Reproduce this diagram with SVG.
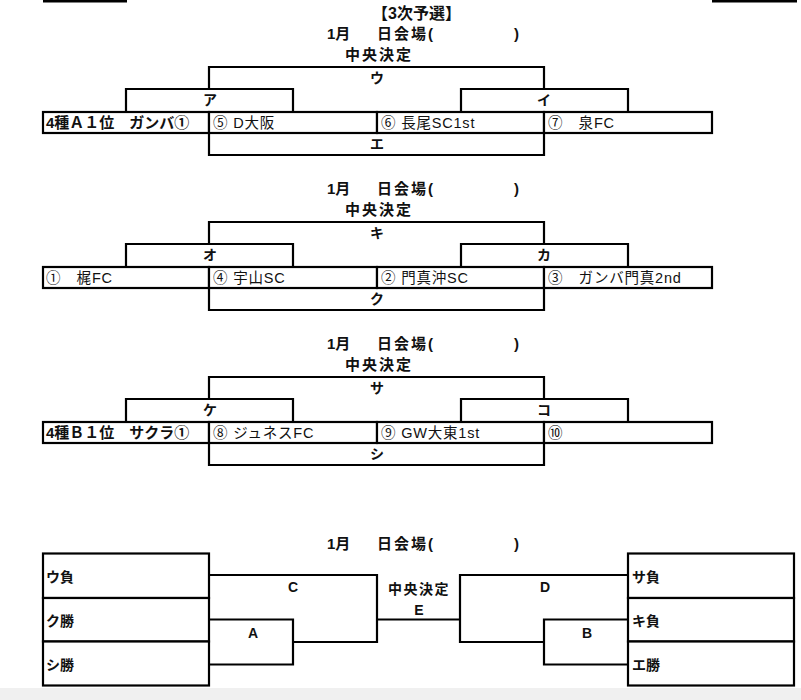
<svg xmlns="http://www.w3.org/2000/svg" width="801" height="700" viewBox="0 0 801 700">
<style>
.ln{fill:none;stroke:#000;stroke-width:2.2;stroke-linejoin:miter}
.cell{fill:#fff;stroke:#000;stroke-width:2.2}
.t{font-family:"Liberation Sans","Noto Sans CJK JP",sans-serif;fill:#111}
.hd{font-size:15px;font-weight:bold}
.lb{font-size:14px;font-weight:bold;text-anchor:middle}
.rw{font-size:14.5px;letter-spacing:0.8px}
.rb{font-size:15px;font-weight:bold}
.bx{font-size:14px;font-weight:bold}
</style>
<rect x="0" y="0" width="801" height="700" fill="#fff"/>
<rect x="0" y="688" width="801" height="12" fill="#f0f0f0"/>
<g id="edge-bars">
<rect x="43" y="0" width="84" height="2.5" fill="#000"/>
<rect x="712" y="0" width="85" height="2.5" fill="#000"/>
</g>
<text class="t" x="372" y="19" font-size="16" font-weight="bold">【3次予選】</text>

<!-- Bracket 1 -->
<g id="bracket1">
<g id="b1-head">
<text class="t hd" x="327" y="39">1月</text>
<text class="t hd" x="377" y="39" letter-spacing="2">日会場(</text>
<text class="t hd" x="514" y="39">)</text>
<text class="t hd" x="345" y="60" letter-spacing="2">中央決定</text>
</g>
<g id="b1-connectors">
<path class="ln" d="M126,112 V89 H293 V112"/>
<path class="ln" d="M461,112 V89 H628 V112"/>
<path class="ln" d="M209,89 V67 H544 V89"/>
<path class="ln" d="M209,133 V155 H544 V133"/>
</g>
<g id="b1-c1"><rect class="cell" x="43" y="112" width="166" height="21"/><text class="t rb" x="46" y="128">4種Ａ１位　ガンバ①</text></g>
<g id="b1-c2"><rect class="cell" x="209" y="112" width="168" height="21"/><text class="t rw" x="213" y="128">⑤ D大阪</text></g>
<g id="b1-c3"><rect class="cell" x="377" y="112" width="167" height="21"/><text class="t rw" x="381" y="128">⑥ 長尾SC1st</text></g>
<g id="b1-c4"><rect class="cell" x="544" y="112" width="168" height="21"/><text class="t rw" x="548" y="128">⑦　泉FC</text></g>
<g id="b1-labels">
<text class="t lb" x="377" y="83">ウ</text>
<text class="t lb" x="210" y="105">ア</text>
<text class="t lb" x="544" y="105">イ</text>
<text class="t lb" x="377" y="149">エ</text>
</g>
</g>

<!-- Bracket 2 -->
<g id="bracket2" transform="translate(0,155)">
<g id="b2-head">
<text class="t hd" x="327" y="39">1月</text>
<text class="t hd" x="377" y="39" letter-spacing="2">日会場(</text>
<text class="t hd" x="514" y="39">)</text>
<text class="t hd" x="345" y="60" letter-spacing="2">中央決定</text>
</g>
<g id="b2-connectors">
<path class="ln" d="M126,112 V89 H293 V112"/>
<path class="ln" d="M461,112 V89 H628 V112"/>
<path class="ln" d="M209,89 V67 H544 V89"/>
<path class="ln" d="M209,133 V155 H544 V133"/>
</g>
<g id="b2-c1"><rect class="cell" x="43" y="112" width="166" height="21"/><text class="t rw" x="46" y="128">①　梶FC</text></g>
<g id="b2-c2"><rect class="cell" x="209" y="112" width="168" height="21"/><text class="t rw" x="213" y="128">④ 宇山SC</text></g>
<g id="b2-c3"><rect class="cell" x="377" y="112" width="167" height="21"/><text class="t rw" x="381" y="128">② 門真沖SC</text></g>
<g id="b2-c4"><rect class="cell" x="544" y="112" width="168" height="21"/><text class="t rw" x="548" y="128">③　ガンバ門真2nd</text></g>
<g id="b2-labels">
<text class="t lb" x="377" y="83">キ</text>
<text class="t lb" x="210" y="105">オ</text>
<text class="t lb" x="544" y="105">カ</text>
<text class="t lb" x="377" y="149">ク</text>
</g>
</g>

<!-- Bracket 3 -->
<g id="bracket3" transform="translate(0,310)">
<g id="b3-head">
<text class="t hd" x="327" y="39">1月</text>
<text class="t hd" x="377" y="39" letter-spacing="2">日会場(</text>
<text class="t hd" x="514" y="39">)</text>
<text class="t hd" x="345" y="60" letter-spacing="2">中央決定</text>
</g>
<g id="b3-connectors">
<path class="ln" d="M126,112 V89 H293 V112"/>
<path class="ln" d="M461,112 V89 H628 V112"/>
<path class="ln" d="M209,89 V67 H544 V89"/>
<path class="ln" d="M209,133 V155 H544 V133"/>
</g>
<g id="b3-c1"><rect class="cell" x="43" y="112" width="166" height="21"/><text class="t rb" x="46" y="128">4種Ｂ１位　サクラ①</text></g>
<g id="b3-c2"><rect class="cell" x="209" y="112" width="168" height="21"/><text class="t rw" x="213" y="128">⑧ ジュネスFC</text></g>
<g id="b3-c3"><rect class="cell" x="377" y="112" width="167" height="21"/><text class="t rw" x="381" y="128">⑨ GW大東1st</text></g>
<g id="b3-c4"><rect class="cell" x="544" y="112" width="168" height="21"/><text class="t rw" x="548" y="128">⑩</text></g>
<g id="b3-labels">
<text class="t lb" x="377" y="83">サ</text>
<text class="t lb" x="210" y="105">ケ</text>
<text class="t lb" x="544" y="105">コ</text>
<text class="t lb" x="377" y="149">シ</text>
</g>
</g>

<!-- Final section -->
<g id="final-head">
<text class="t hd" x="327" y="549">1月</text>
<text class="t hd" x="377" y="549" letter-spacing="2">日会場(</text>
<text class="t hd" x="514" y="549">)</text>
</g>
<g id="final-connectors">
<path class="ln" d="M209,575 H377 V642 H293"/>
<path class="ln" d="M209,619.5 H293 V664.5 H209"/>
<path class="ln" d="M377,619.5 H460"/>
<path class="ln" d="M628,575 H460 V642 H544"/>
<path class="ln" d="M628,619.5 H544 V664.5 H628"/>
</g>
<g id="L1"><rect class="cell" x="43" y="553.5" width="166" height="44.5"/><text class="t bx" x="46" y="582">ウ負</text></g>
<g id="L2"><rect class="cell" x="43" y="598" width="166" height="43.5"/><text class="t bx" x="46" y="626">ク勝</text></g>
<g id="L3"><rect class="cell" x="43" y="641.5" width="166" height="44"/><text class="t bx" x="46" y="670">シ勝</text></g>
<g id="R1"><rect class="cell" x="628" y="553.5" width="166" height="44.5"/><text class="t bx" x="632" y="582">サ負</text></g>
<g id="R2"><rect class="cell" x="628" y="598" width="166" height="43.5"/><text class="t bx" x="632" y="626">キ負</text></g>
<g id="R3"><rect class="cell" x="628" y="641.5" width="166" height="44"/><text class="t bx" x="632" y="670">エ勝</text></g>
<g id="final-labels">
<text class="t lb" x="293" y="592">C</text>
<text class="t lb" x="253" y="638">A</text>
<text class="t lb" x="545" y="592">D</text>
<text class="t lb" x="587" y="638">B</text>
<text class="t lb" x="419" y="594" font-size="15" letter-spacing="1.5">中央決定</text>
<text class="t lb" x="419" y="615">E</text>
</g>
</svg>
